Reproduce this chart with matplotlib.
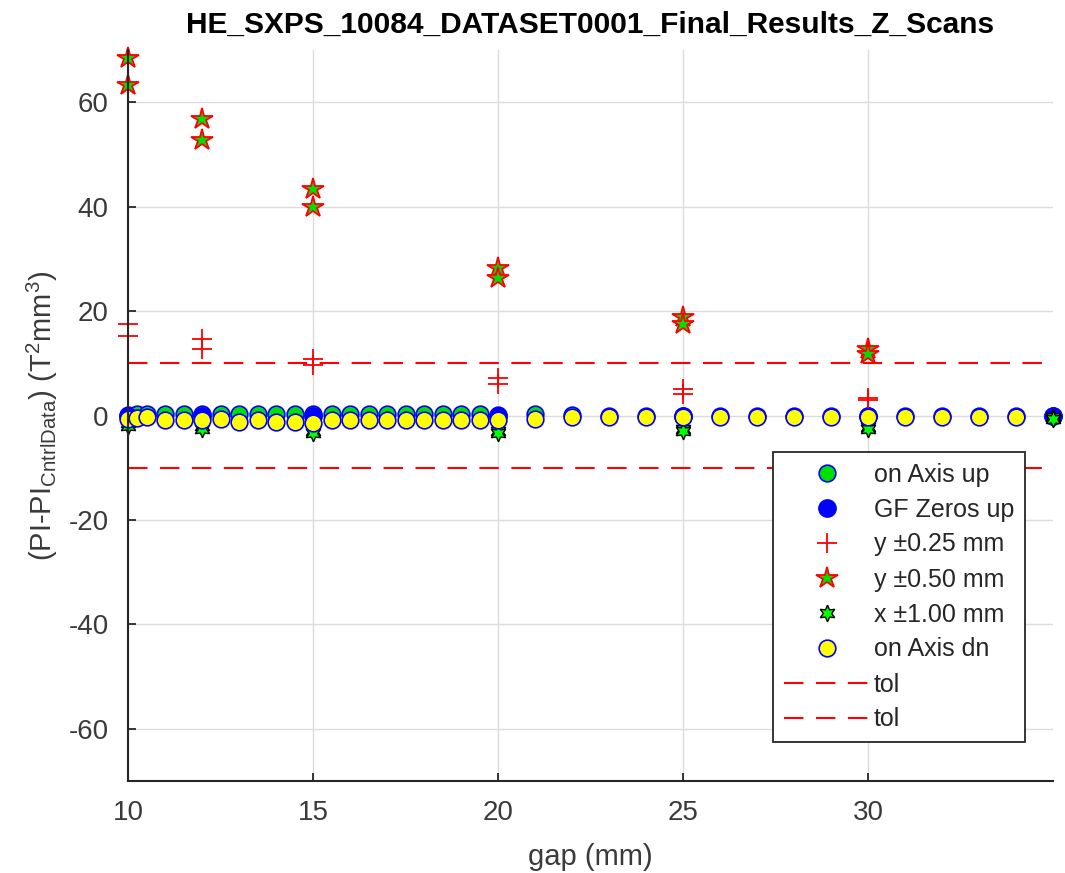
import matplotlib
matplotlib.use('Agg')
import matplotlib.pyplot as plt

plt.rcParams['font.family'] = ['Liberation Sans', 'DejaVu Sans']
plt.rcParams['mathtext.fontset'] = 'custom'
plt.rcParams['mathtext.rm'] = 'Liberation Sans'
plt.rcParams['mathtext.it'] = 'Liberation Sans:italic'
plt.rcParams['lines.scale_dashes'] = False
plt.rcParams['axes.unicode_minus'] = False

# gap positions (mm)
gap_up = [10, 10.25, 10.5, 11, 11.5, 12, 12.5, 13, 13.5, 14, 14.5, 15, 15.5, 16, 16.5,
          17, 17.5, 18, 18.5, 19, 19.5, 20, 21, 22, 23, 24, 25, 26, 27, 28, 29, 30,
          31, 32, 33, 34, 35]
axis_up = [0.1, 0.2, 0.2, 0.3, 0.3, 0.2, 0.3, 0.2, 0.3, 0.3, 0.3, 0.2, 0.3, 0.2, 0.3,
           0.2, 0.3, 0.2, 0.3, 0.2, 0.3, 0.1, 0.2, 0.1, 0.0, 0.0, 0.0, 0.0, 0.0, 0.0,
           0.0, 0.0, 0.0, 0.0, 0.0, 0.0, 0.0]

gap_gf = [10, 12, 15, 20, 25, 30, 35]
gf_up = [0.0, 0.0, 0.0, 0.0, 0.0, 0.0, 0.0]

gap_y = [10, 10, 12, 12, 15, 15, 20, 20, 25, 25, 30, 30]
y025 = [17.6, 15.3, 14.7, 12.7, 10.9, 9.7, 7.1, 6.1, 5.0, 4.2, 3.3, 3.0]
y050 = [68.5, 63.3, 56.8, 52.8, 43.4, 40.0, 28.3, 26.3, 18.8, 17.5, 12.7, 11.8]

gap_x = [10, 10, 12, 12, 15, 15, 20, 20, 25, 25, 30, 30, 35, 35]
x100 = [-1.5, -2.0, -2.0, -2.6, -3.0, -3.4, -3.0, -3.4, -2.6, -3.0, -2.2, -2.6, -0.3, -0.6]

gap_dn = [10, 10.25, 10.5, 11, 11.5, 12, 12.5, 13, 13.5, 14, 14.5, 15, 15.5, 16, 16.5,
          17, 17.5, 18, 18.5, 19, 19.5, 20, 21, 22, 23, 24, 25, 26, 27, 28, 29, 30,
          31, 32, 33, 34]
axis_dn = [-0.7, -0.5, -0.3, -0.8, -0.8, -0.8, -0.7, -1.2, -0.9, -1.2, -1.2, -1.4, -0.9, -0.9, -0.9,
           -0.9, -0.9, -0.9, -0.9, -0.9, -0.9, -0.9, -0.6, -0.3, -0.3, -0.3, -0.3, -0.3, -0.3, -0.3,
           -0.3, -0.3, -0.3, -0.3, -0.3, -0.3]

tol_x = [10, 35]
tol_hi = [10, 10]
tol_lo = [-10, -10]

fig = plt.figure(figsize=(10.65, 8.73), dpi=100)
ax = fig.add_axes([128/1065, 1-781/873, (1053-128)/1065, (781-50)/873])

ax.plot(gap_up, axis_up, 'o', ms=12, mfc='#00e000', mec='blue', mew=1.2, label='on Axis up', clip_on=False)
ax.plot(gap_gf, gf_up, 'o', ms=12.5, mfc='blue', mec='blue', label='GF Zeros up', clip_on=False)
ax.plot(gap_y, y025, '+', ms=14, mec='red', mew=1.3, label='y \u00b10.25 mm', clip_on=False)
ax.plot(gap_y, y050, '*', ms=16, mfc='#00e000', mec='red', mew=1.3, label='y \u00b10.50 mm', clip_on=False)
ax.plot(gap_x, x100, marker=(6, 1, 0), ls='none', ms=12, mfc='#00ff00', mec='black', mew=1.0,
        label='x \u00b11.00 mm', clip_on=False)
ax.plot(gap_dn, axis_dn, 'o', ms=12, mfc='yellow', mec='blue', mew=1.2, label='on Axis dn', clip_on=False)
ax.plot(tol_x, tol_hi, color='red', lw=1.5, dashes=(14, 9), label='tol')
ax.plot(tol_x, tol_lo, color='red', lw=1.5, dashes=(14, 9), label='tol')

ax.set_xlim(10, 35)
ax.set_ylim(-70, 70)
ax.set_xticks([10, 15, 20, 25, 30])
ax.set_yticks([-60, -40, -20, 0, 20, 40, 60])
ax.grid(True, color='#dcdcdc', lw=1)
ax.set_axisbelow(True)
for s in ['top', 'right']:
    ax.spines[s].set_visible(False)
for s in ['left', 'bottom']:
    ax.spines[s].set_color('#262626')
    ax.spines[s].set_linewidth(1.5)
ax.tick_params(direction='in', length=6, width=1.3, colors='#262626', labelsize=20, pad=14)
for lab in ax.get_xticklabels() + ax.get_yticklabels():
    lab.set_color('#3a3a3a')

ax.set_title('HE_SXPS_10084_DATASET0001_Final_Results_Z_Scans', fontsize=21.5, fontweight='bold', pad=12)
ax.set_xlabel('gap (mm)', fontsize=21, color='#3a3a3a', labelpad=12)
ax.set_ylabel(r'(PI-PI$_{\mathrm{CntrlData}}$) (T$^{\mathrm{2}}$mm$^{\mathrm{3}}$)', fontsize=21,
              color='#3a3a3a', labelpad=6)

leg = ax.legend(loc='upper left', bbox_to_anchor=(773/1065, 1-452/873), bbox_transform=fig.transFigure,
                borderaxespad=0, fontsize=18, handlelength=3.5, handletextpad=0.12, borderpad=0.42,
                labelspacing=0.44, fancybox=False, framealpha=1, edgecolor='#262626')
leg.get_frame().set_linewidth(1.3)
for t in leg.get_texts():
    t.set_color('#262626')

fig.savefig('out.png', dpi=100)
